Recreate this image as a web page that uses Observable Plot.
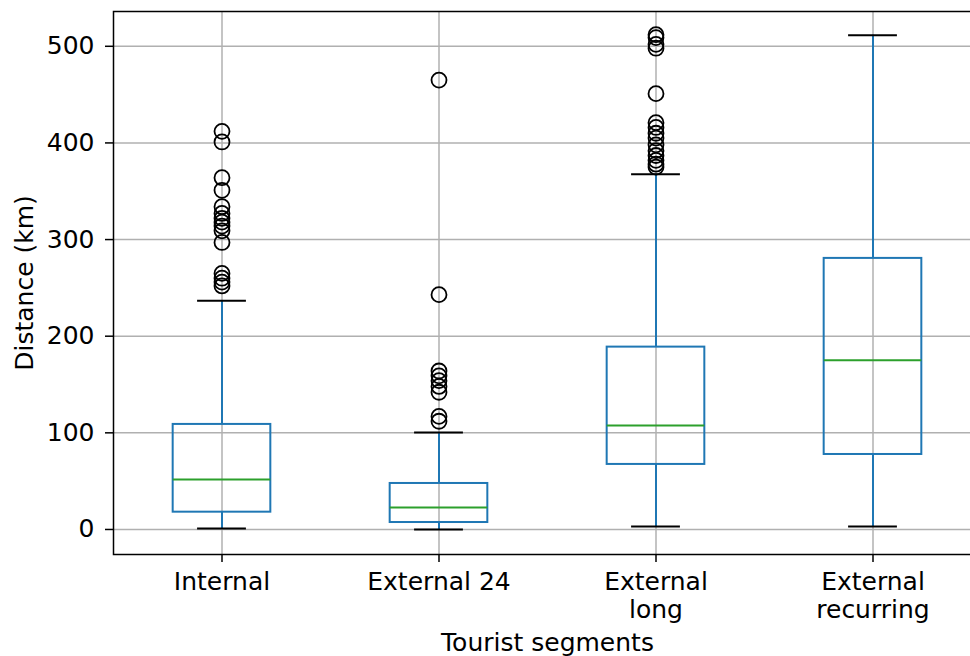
<!DOCTYPE html>
<html>
<head>
<meta charset="utf-8">
<script src="https://cdn.jsdelivr.net/npm/d3@7"></script>
<script src="https://cdn.jsdelivr.net/npm/@observablehq/plot@0.6"></script>
<style>
  html, body { margin: 0; padding: 0; background: white; overflow: hidden; }
  #chart { width: 970px; height: 656px; overflow: hidden; }
  #chart svg { max-width: none !important; display: block; }
</style>
</head>
<body>
<div id="chart"></div>
<script>
const categories = ["Internal", "External 24", "External\nlong", "External\nrecurring"];
const lowerWhisker = [1, 0, 3.1, 3.1];
const q1 = [17.9, 7.2, 67.3, 77.6];
const median = [51.8, 22.8, 107.7, 175];
const q3 = [108.7, 47.6, 188.7, 280.5];
const upperWhisker = [236.7, 100.4, 367.5, 511.4];
const outliersInternal = [412, 401, 364, 351, 334, 327, 322, 318, 314, 309, 297, 265, 260, 256, 252];
const outliersExternal24 = [465, 243, 164, 159, 154, 148, 142, 117, 112];
const outliersExternalLong = [512, 509, 502, 498, 451, 421, 416, 410, 405, 398, 392, 387, 382, 378, 375];
const outliersExternalRecurring = [];
const yTicks = [0, 100, 200, 300, 400, 500];

const boxes = categories.map((c, i) => ({
  pos: i + 1, lo: lowerWhisker[i], q1: q1[i], med: median[i], q3: q3[i], hi: upperWhisker[i]
}));
const outlierLists = [outliersInternal, outliersExternal24, outliersExternalLong, outliersExternalRecurring];
const outliers = outlierLists.flatMap((arr, i) => arr.map(v => ({pos: i + 1, v})));

const boxHalf = 0.225, capHalf = 0.1125;
const blue = "#1f77b4", green = "#2ca02c", grid = "#b0b0b0";
const fs = 25;

const chart = Plot.plot({
  width: 982,
  height: 656,
  marginLeft: 113,
  marginRight: 1,
  marginTop: 11,
  marginBottom: 102,
  style: {fontFamily: "DejaVu Sans", fontSize: fs + "px", color: "black", background: "white", maxWidth: "none"},
  x: {type: "linear", domain: [0.5, 4.5]},
  y: {domain: [-25.9, 536]},
  marks: [
    Plot.gridY(yTicks, {stroke: grid, strokeOpacity: 1, strokeWidth: 1.5}),
    Plot.gridX([1, 2, 3, 4], {stroke: grid, strokeOpacity: 1, strokeWidth: 1.5}),
    Plot.ruleX(boxes, {x: "pos", y1: "q3", y2: "hi", stroke: blue, strokeWidth: 2}),
    Plot.ruleX(boxes, {x: "pos", y1: "lo", y2: "q1", stroke: blue, strokeWidth: 2}),
    Plot.rect(boxes, {x1: d => d.pos - boxHalf, x2: d => d.pos + boxHalf, y1: "q1", y2: "q3", fill: "none", stroke: blue, strokeWidth: 2}),
    Plot.ruleY(boxes, {y: "med", x1: d => d.pos - boxHalf, x2: d => d.pos + boxHalf, stroke: green, strokeWidth: 2}),
    Plot.ruleY(boxes, {y: "lo", x1: d => d.pos - capHalf, x2: d => d.pos + capHalf, stroke: "black", strokeWidth: 2}),
    Plot.ruleY(boxes, {y: "hi", x1: d => d.pos - capHalf, x2: d => d.pos + capHalf, stroke: "black", strokeWidth: 2}),
    Plot.dot(outliers, {x: "pos", y: "v", r: 7.5, stroke: "black", strokeWidth: 1.8, fill: "none"}),
    Plot.frame({stroke: "black", strokeWidth: 1.5}),
    Plot.axisY({ticks: yTicks, tickSize: 8, tickPadding: 11, label: null, fontSize: fs, stroke: "black", strokeWidth: 1.5}),
    Plot.axisX({ticks: [1, 2, 3, 4], tickFormat: d => categories[d - 1], tickSize: 8, tickPadding: 8, label: null, fontSize: fs, lineHeight: 1.1, stroke: "black", strokeWidth: 1.5}),
    Plot.text(["Distance (km)"], {frameAnchor: "left", rotate: -90, dx: -89, textAnchor: "middle", lineAnchor: "middle", fontSize: fs, fill: "black"}),
    Plot.text(["Tourist segments"], {frameAnchor: "bottom", dy: 88, textAnchor: "middle", lineAnchor: "middle", fontSize: fs, fill: "black"})
  ]
});
document.getElementById("chart").appendChild(chart);
</script>
</body>
</html>
